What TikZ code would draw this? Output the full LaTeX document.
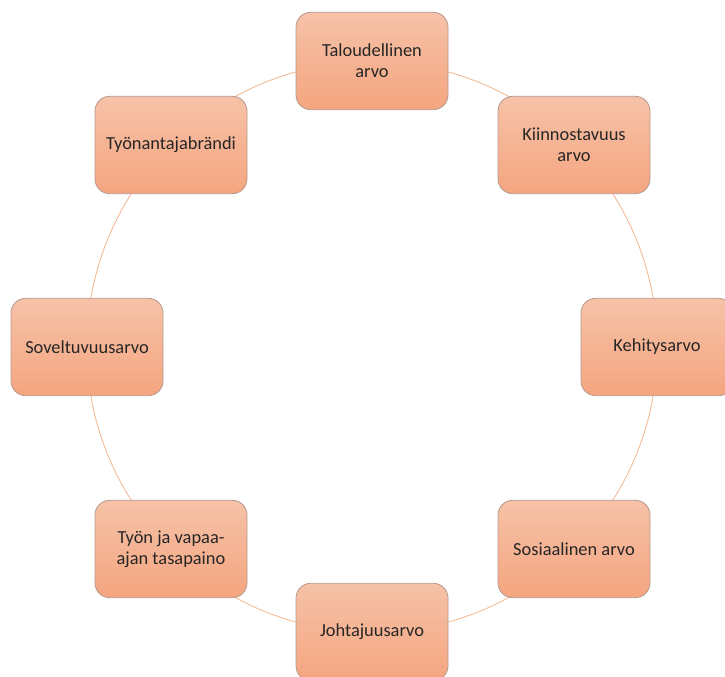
\documentclass[tikz,border=0pt]{standalone}
\usepackage{fontspec}
\setmainfont{Carlito}
\usetikzlibrary{positioning}
\definecolor{boxtop}{HTML}{F6C2A8}
\definecolor{boxbot}{HTML}{F4A57F}
\definecolor{boxline}{HTML}{B59A8E}
\definecolor{ringline}{HTML}{F4B48E}
\begin{document}
\begin{tikzpicture}[
    x=0.75pt, y=-0.75pt,
    valuebox/.style={rectangle, draw=boxline, line width=0.6pt, rounded corners=11pt,
      top color=boxtop, bottom color=boxbot, minimum width=114pt, minimum height=73pt,
      align=center, font=\fontsize{13.8}{16}\selectfont, text=black!85},
    ring/.style={draw=ringline, line width=0.6pt}
  ]
    \useasboundingbox (0,0) rectangle (725,677);
    \clip (0,0) rectangle (725,677);

    % ring behind the boxes
    \coordinate (centre) at (372,347);
    \draw[ring] (centre) circle[radius=214pt];

    % value boxes, clockwise from the top
    \node[valuebox] (talous) at (372,61) {Taloudellinen\\arvo};
    \node[valuebox] (kiinnostus) at (574,145) {Kiinnostavuus\\arvo};
    \node[valuebox] (kehitys) at (657,347) {Kehitysarvo};
    \node[valuebox] (sosiaalinen) at (574,549) {Sosiaalinen arvo};
    \node[valuebox] (johtajuus) at (372,632) {Johtajuusarvo};
    \node[valuebox] (tasapaino) at (171,549) {Työn ja vapaa-\\ajan tasapaino};
    \node[valuebox] (soveltuvuus) at (87,347) {Soveltuvuusarvo};
    \node[valuebox] (brandi) at (171,145) {Työnantajabrändi};
  \end{tikzpicture}
\end{document}
